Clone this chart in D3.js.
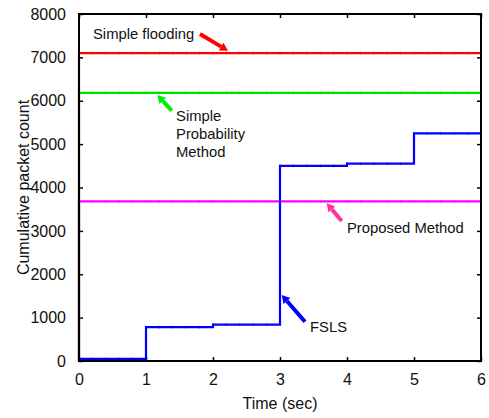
<!DOCTYPE html>
<html><head><meta charset="utf-8">
<script src="https://cdn.jsdelivr.net/npm/d3@7"></script>
<style>body{margin:0;background:#fff}svg{display:block}text{font-family:"Liberation Sans",Arial,sans-serif;fill:#111}</style>
</head><body><svg id="c" width="489" height="418"></svg>
<script>
const xTicks = [0,1,2,3,4,5,6];
const yTicks = [0,1000,2000,3000,4000,5000,6000,7000,8000];
const stepTimes = [0,1,2,3,4,5,6];
const fslsValues = [50,780,840,4500,4550,5250];
const floodingValue = 7100;
const probabilityValue = 6180;
const proposedValue = 3680;
const seriesNames = ["Simple flooding","Simple Probability Method","Proposed Method","FSLS"];

const svg = d3.select("#c");
const L=79, R=481, T=14, B=361;
const x = d3.scaleLinear().domain([0,6]).range([L,R]);
const y = d3.scaleLinear().domain([0,8000]).range([B,T]);

function stepPts(vals){
  const pts=[[0,0]];
  vals.forEach((v,i)=>pts.push([stepTimes[i],v]));
  pts.push([stepTimes[stepTimes.length-1], vals[vals.length-1]]);
  return pts;
}
const series = [
  {name:seriesNames[0], color:"#ff0000", vals:stepTimes.slice(0,6).map(()=>floodingValue)},
  {name:seriesNames[1], color:"#00dd00", vals:stepTimes.slice(0,6).map(()=>probabilityValue)},
  {name:seriesNames[2], color:"#ff00ff", vals:stepTimes.slice(0,6).map(()=>proposedValue)},
  {name:seriesNames[3], color:"#0000ff", vals:fslsValues}
];
const line = d3.line().x(d=>x(d[0])).y(d=>y(d[1])).curve(d3.curveStepAfter);

const tl=4;
const fmt = d3.format("d");
svg.append("g").attr("transform",`translate(0,${B})`)
  .call(d3.axisBottom(x).tickValues(xTicks).tickFormat(fmt).tickSizeInner(-tl).tickSizeOuter(0).tickPadding(10))
  .call(g=>g.select(".domain").remove())
  .call(g=>g.selectAll("text").attr("font-size",16).attr("dy","0.9em"));
svg.append("g").attr("transform",`translate(0,${T})`)
  .call(d3.axisTop(x).tickValues(xTicks).tickSizeInner(-tl).tickSizeOuter(0).tickFormat(""))
  .call(g=>g.select(".domain").remove());
svg.append("g").attr("transform",`translate(${L},0)`)
  .call(d3.axisLeft(y).tickValues(yTicks).tickFormat(fmt).tickSizeInner(-tl).tickSizeOuter(0).tickPadding(13))
  .call(g=>g.select(".domain").remove())
  .call(g=>g.selectAll("text").attr("font-size",16));
svg.append("g").attr("transform",`translate(${R},0)`)
  .call(d3.axisRight(y).tickValues(yTicks).tickSizeInner(-tl).tickSizeOuter(0).tickFormat(""))
  .call(g=>g.select(".domain").remove());
svg.selectAll(".tick line").attr("stroke","#000").attr("stroke-width",1.5);
svg.selectAll(".tick text").style("fill","#111");

series.forEach(s=>{
  svg.append("path").attr("d",line(stepPts(s.vals))).attr("fill","none")
    .attr("stroke",s.color).attr("stroke-width",2.2);
  const ms=d3.range(0,6.001,0.2);
  svg.append("g").selectAll("line").data(ms).join("line")
    .attr("x1",d=>x(d)).attr("x2",d=>x(d))
    .attr("y1",d=>y(s.vals[Math.min(5,Math.floor(d+1e-6))])-1.6)
    .attr("y2",d=>y(s.vals[Math.min(5,Math.floor(d+1e-6))])+1.6)
    .attr("stroke",s.color).attr("stroke-width",1).attr("opacity",0.45);
});

svg.append("rect").attr("x",L).attr("y",T).attr("width",R-L).attr("height",B-T)
  .attr("fill","none").attr("stroke","#000").attr("stroke-width",2);

svg.append("text").attr("x",(L+R)/2).attr("y",409).attr("text-anchor","middle").attr("font-size",16).text("Time (sec)");
svg.append("text").attr("transform",`translate(29,${(T+B)/2}) rotate(-90)`).attr("text-anchor","middle").attr("font-size",16).text("Cumulative packet count");

const arrows = [
  {color:"#ff0000", from:[1.806,7539], to:[2.224,7154]},
  {color:"#00ee00", from:[1.384,5771], to:[1.169,6133]},
  {color:"#ff3399", from:[3.921,3228], to:[3.697,3636]},
  {color:"#0000ff", from:[3.373,906], to:[3.025,1522]}
];
arrows.forEach(a=>{
  const x1=x(a.from[0]), y1=y(a.from[1]), x2=x(a.to[0]), y2=y(a.to[1]);
  const ang=Math.atan2(y2-y1,x2-x1), hl=8, hw=4.5;
  const bx=x2-hl*Math.cos(ang), by=y2-hl*Math.sin(ang);
  svg.append("line").attr("x1",x1).attr("y1",y1).attr("x2",bx).attr("y2",by)
    .attr("stroke",a.color).attr("stroke-width",4);
  const px=-Math.sin(ang), py=Math.cos(ang);
  svg.append("polygon").attr("points",[[x2,y2],[bx+px*hw,by+py*hw],[bx-px*hw,by-py*hw]].map(p=>p.join(",")).join(" "))
    .attr("fill",a.color);
});
const labels = [
  {lines:["Simple flooding"], at:[0.209,7424]},
  {lines:["Simple","Probability","Method"], at:[1.448,5533]},
  {lines:["Proposed Method"], at:[4.0,2951]},
  {lines:["FSLS"], at:[3.448,680]}
];
labels.forEach(l=>{
  const t=svg.append("text").attr("x",x(l.at[0])).attr("y",y(l.at[1])).attr("font-size",14.8);
  l.lines.forEach((s,i)=>t.append("tspan").attr("x",x(l.at[0])).attr("dy",i?18:0).text(s));
});
</script></body></html>
